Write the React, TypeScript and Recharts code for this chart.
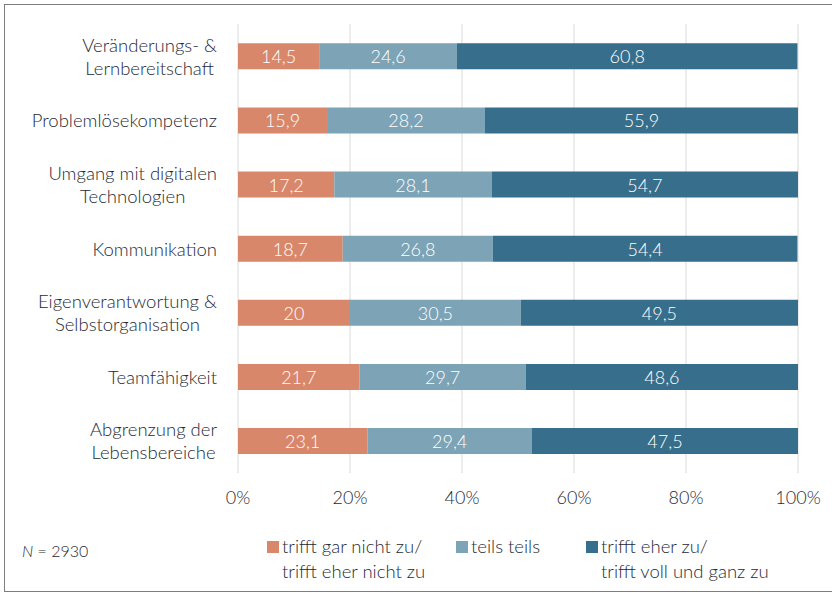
import React from 'react';
import {
  BarChart,
  Bar,
  XAxis,
  YAxis,
  CartesianGrid,
  LabelList,
} from 'recharts';

const categories = [
  'Veränderungs- &\nLernbereitschaft',
  'Problemlösekompetenz',
  'Umgang mit digitalen\nTechnologien',
  'Kommunikation',
  'Eigenverantwortung &\nSelbstorganisation',
  'Teamfähigkeit',
  'Abgrenzung der\nLebensbereiche',
];

const disagree = [14.5, 15.9, 17.2, 18.7, 20, 21.7, 23.1];
const neutral = [24.6, 28.2, 28.1, 26.8, 30.5, 29.7, 29.4];
const agree = [60.8, 55.9, 54.7, 54.4, 49.5, 48.6, 47.5];

const xTicks = [0, 20, 40, 60, 80, 100];

const seriesNames = [
  'trifft gar nicht zu/\ntrifft eher nicht zu',
  'teils teils',
  'trifft eher zu/\ntrifft voll und ganz zu',
];

const COLORS = ['#D9876A', '#7CA3B6', '#376E8B'];
const FONT = 'Lato, "Open Sans", sans-serif';
const TEXT = '#262a35';

const data = categories.map((name, i) => ({
  name,
  disagree: disagree[i],
  neutral: neutral[i],
  agree: agree[i],
}));

let canvas: HTMLCanvasElement | null = null;
const measure = (text: string, size: number) => {
  if (!canvas) canvas = document.createElement('canvas');
  const ctx = canvas.getContext('2d')!;
  ctx.font = `300 ${size}px ${FONT}`;
  return ctx.measureText(text).width;
};

const CategoryTick = ({ x, y, payload }: any) => {
  const lines: string[] = String(payload.value).split('\n');
  const size = 18.5;
  const lineH = 23;
  const widest = Math.max(...lines.map((l) => measure(l, size)));
  const cx = x - 13 - widest / 2;
  const startY = y - ((lines.length - 1) * lineH) / 2;
  return (
    <text
      textAnchor="middle"
      fill={TEXT}
      fontSize={size}
      fontFamily={FONT}
      fontWeight={300}
      dominantBaseline="central"
    >
      {lines.map((l, i) => (
        <tspan key={i} x={cx} y={startY + i * lineH}>
          {l}
        </tspan>
      ))}
    </text>
  );
};

// white value in the middle of each segment, decimal comma
const SegmentLabel = (props: any) => {
  const { x, y, width, height, value } = props;
  return (
    <text
      x={x + width / 2}
      y={y + height / 2}
      textAnchor="middle"
      dominantBaseline="central"
      fill="#fff"
      fontSize={18}
      fontFamily={FONT}
      fontWeight={300}
    >
      {String(value).replace('.', ',')}
    </text>
  );
};

const Legend = () => (
  <div
    style={{
      position: 'absolute',
      left: 267,
      top: 534,
      display: 'flex',
      fontFamily: FONT,
      fontSize: 18.5,
      fontWeight: 300,
      color: TEXT,
      lineHeight: '25px',
    }}
  >
    {seriesNames.map((n, i) => (
      <div
        key={i}
        style={{
          display: 'flex',
          alignItems: 'flex-start',
          width: i === 0 ? 189 : i === 1 ? 130 : 220,
        }}
      >
        <div
          style={{
            width: 12,
            height: 12,
            background: COLORS[i],
            marginTop: 7,
            marginRight: 3,
          }}
        />
        <div style={{ whiteSpace: 'pre' }}>{n}</div>
      </div>
    ))}
  </div>
);

export default function App() {
  return (
    <div
      style={{
        position: 'absolute',
        left: 0,
        top: 0,
        width: 832,
        height: 593,
        background: '#fff',
        overflow: 'hidden',
      }}
    >
      <div
        style={{
          position: 'absolute',
          left: 4,
          top: 4,
          width: 834,
          height: 586,
          border: '1.5px solid #7f7f7f',
        }}
      />
      <div style={{ position: 'absolute', left: 0, top: 0 }}>
        <BarChart
          width={832}
          height={520}
          data={data}
          layout="vertical"
          barCategoryGap="30%"
          margin={{ top: 24, right: 34, left: 8, bottom: 0 }}
        >
          <CartesianGrid horizontal={false} stroke="#d9d9d9" />
          <XAxis
            type="number"
            domain={[0, 100]}
            ticks={xTicks}
            tickFormatter={(v) => `${v}%`}
            axisLine={false}
            tickLine={false}
            height={47}
            tickMargin={12}
            tick={{ fontSize: 18, fill: TEXT, fontFamily: FONT, fontWeight: 300 }}
            interval={0}
          />
          <YAxis
            dataKey="name"
            type="category"
            width={230}
            axisLine={false}
            tickLine={false}
            tick={<CategoryTick />}
            interval={0}
          />
          <Bar dataKey="disagree" stackId="a" fill={COLORS[0]} isAnimationActive={false}>
            <LabelList dataKey="disagree" content={<SegmentLabel />} />
          </Bar>
          <Bar dataKey="neutral" stackId="a" fill={COLORS[1]} isAnimationActive={false}>
            <LabelList dataKey="neutral" content={<SegmentLabel />} />
          </Bar>
          <Bar dataKey="agree" stackId="a" fill={COLORS[2]} isAnimationActive={false}>
            <LabelList dataKey="agree" content={<SegmentLabel />} />
          </Bar>
        </BarChart>
      </div>
      <Legend />
      <div
        style={{
          position: 'absolute',
          left: 22,
          top: 541,
          fontFamily: FONT,
          fontSize: 16,
          fontWeight: 300,
          color: TEXT,
        }}
      >
        <i>N</i> = 2930
      </div>
    </div>
  );
}
